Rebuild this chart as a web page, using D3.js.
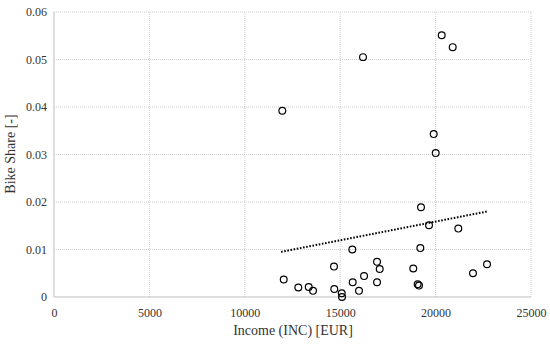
<!DOCTYPE html>
<meta charset="utf-8">
<script src="https://d3js.org/d3.v7.min.js"></script>
<body style="margin:0; background:#fff">
<div id="chart"></div>
</body>
<script>
    // Income [EUR] vs bike share
    var income = [20320, 20896, 16195, 11966, 19900, 20005, 19235, 19654, 21190, 15635,
                  19200, 16930, 17070, 14675, 18830, 22695, 21960, 12040, 16250, 15655,
                  16930, 12805, 13350, 13575, 14690, 15080, 15095, 15985, 19060, 19130];
    var bikeShare = [0.0551, 0.0526, 0.0505, 0.0392, 0.0343, 0.0303, 0.0189, 0.0151, 0.0144, 0.0100,
                     0.0103, 0.0074, 0.0059, 0.0064, 0.0060, 0.0069, 0.0050, 0.0037, 0.0044, 0.0031,
                     0.0031, 0.0020, 0.0021, 0.0013, 0.0017, 0.0008, 0.0000, 0.0013, 0.0027, 0.0024];
    // Linear trend line ends, as drawn in the picture
    var trendIncome = [11900, 22695];
    var trendShare = [0.0095, 0.0180];
    var xTicks = [0, 5000, 10000, 15000, 20000, 25000];
    var yTicks = [0, 0.01, 0.02, 0.03, 0.04, 0.05, 0.06];

    var data = income.map(function (d, i) { return {inc: d, share: bikeShare[i]}; });
    var serif = "'Liberation Serif', 'Times New Roman', serif";

    var width = 550, height = 348;
    var margin = {top: 12, right: 19, bottom: 51, left: 54};

    var svg = d3.select("#chart").append("svg")
        .attr("width", width)
        .attr("height", height)
        .style("font-family", serif);

    var x = d3.scaleLinear().domain([0, 25000]).range([margin.left, width - margin.right]);
    var y = d3.scaleLinear().domain([0, 0.06]).range([height - margin.bottom, margin.top]);

    // Gridlines
    svg.append("g").selectAll("line")
        .data(yTicks.slice(1))
        .enter().append("line")
        .attr("x1", x(0)).attr("x2", x(25000))
        .attr("y1", function (d) { return y(d); })
        .attr("y2", function (d) { return y(d); })
        .attr("stroke", "#d0d0d0").attr("stroke-dasharray", "1,1");
    svg.append("g").selectAll("line")
        .data(xTicks.slice(1))
        .enter().append("line")
        .attr("y1", y(0)).attr("y2", y(0.06))
        .attr("x1", function (d) { return x(d); })
        .attr("x2", function (d) { return x(d); })
        .attr("stroke", "#d0d0d0").attr("stroke-dasharray", "1,1");

    // Axis lines
    svg.append("line")
        .attr("x1", x(0)).attr("x2", x(25000)).attr("y1", y(0)).attr("y2", y(0))
        .attr("stroke", "#bfbfbf").attr("stroke-width", 1);
    svg.append("line")
        .attr("x1", x(0)).attr("x2", x(0)).attr("y1", y(0)).attr("y2", y(0.06))
        .attr("stroke", "#bfbfbf").attr("stroke-width", 1);

    // Tick labels
    var xAxis = svg.append("g")
        .attr("transform", "translate(0," + (y(0) + 8) + ")")
        .attr("font-family", serif)
        .call(d3.axisBottom(x).tickValues(xTicks).tickFormat(d3.format("d")).tickSize(0));
    xAxis.attr("font-family", serif);
    xAxis.select(".domain").remove();
    xAxis.selectAll("text").attr("font-size", 12).attr("fill", "#333");

    var yAxis = svg.append("g")
        .attr("transform", "translate(" + (x(0) - 4) + ",0)")
        .call(d3.axisLeft(y).tickValues(yTicks)
            .tickFormat(function (d) { return d === 0 ? "0" : d3.format(".2f")(d); })
            .tickSize(0));
    yAxis.attr("font-family", serif);
    yAxis.select(".domain").remove();
    yAxis.selectAll("text").attr("font-size", 12).attr("fill", "#333");

    // Axis titles
    svg.append("text")
        .attr("x", 293).attr("y", 335)
        .attr("text-anchor", "middle")
        .attr("font-size", 14).attr("fill", "#333")
        .text("Income (INC) [EUR]");
    svg.append("text")
        .attr("transform", "translate(15,154) rotate(-90)")
        .attr("text-anchor", "middle")
        .attr("font-size", 14).attr("fill", "#333")
        .text("Bike Share [-]");

    // Trend line
    svg.append("line")
        .attr("x1", x(trendIncome[0])).attr("y1", y(trendShare[0]))
        .attr("x2", x(trendIncome[1])).attr("y2", y(trendShare[1]))
        .attr("stroke", "#000").attr("stroke-width", 2)
        .attr("stroke-dasharray", "1.6,1.6");

    // Points
    svg.append("g")
        .selectAll("circle")
        .data(data)
        .enter().append("circle")
        .attr("cx", function (d) { return x(d.inc); })
        .attr("cy", function (d) { return y(d.share); })
        .attr("r", 3.4)
        .attr("fill", "none")
        .attr("stroke", "#000")
        .attr("stroke-width", 1.2);
</script>
